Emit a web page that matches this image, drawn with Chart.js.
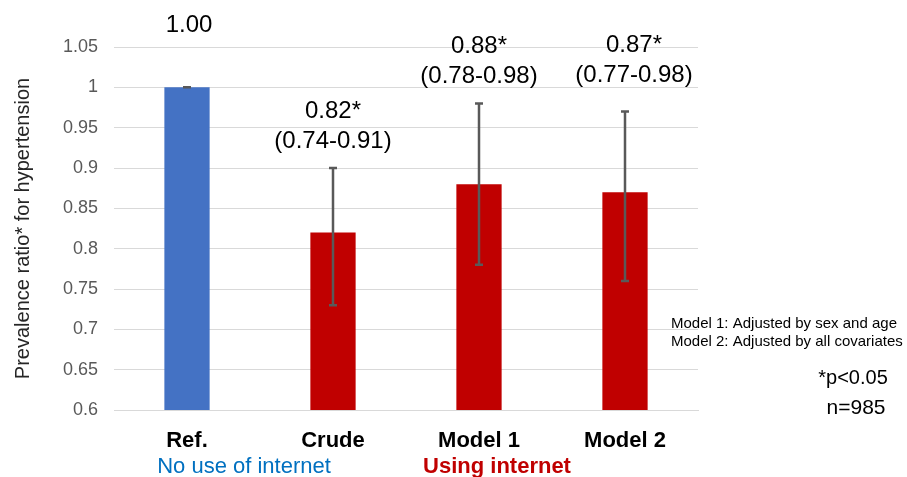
<!DOCTYPE html>
<html>
<head>
<meta charset="utf-8">
<script src="https://cdn.jsdelivr.net/npm/chart.js@4.4.0/dist/chart.umd.min.js"></script>
<style>
  html, body { margin: 0; padding: 0; background: #fff; }
  #wrap { width: 907px; height: 477px; }
</style>
</head>
<body>
<div id="wrap"><canvas id="chart"></canvas></div>
<script>
const categories = ['Ref.', 'Crude', 'Model 1', 'Model 2'];
const ratios = [1.00, 0.82, 0.88, 0.87];
const ciLower = [1.00, 0.73, 0.78, 0.76];
const ciUpper = [1.00, 0.90, 0.98, 0.97];
const valueLabels = ['1.00', '0.82*', '0.88*', '0.87*'];
const ciLabels = ['', '(0.74-0.91)', '(0.78-0.98)', '(0.77-0.98)'];
const groupLabels = ['No use of internet', 'Using internet'];
const notes = ['Model 1: Adjusted by sex and age', 'Model 2: Adjusted by all covariates'];
const footNotes = ['*p<0.05', 'n=985'];

const FONT = '"Liberation Sans", Arial, sans-serif';
const barColours = ['#4472C4', '#C00000', '#C00000', '#C00000'];

// error bars + text drawn on top of the bars
const extras = {
  id: 'extras',
  afterDatasetsDraw(chart) {
    const ctx = chart.ctx;
    const y = chart.scales.y;
    const meta = chart.getDatasetMeta(0);
    ctx.save();

    // error bars
    ctx.strokeStyle = '#595959';
    ctx.lineWidth = 2.5;
    meta.data.forEach((bar, i) => {
      const yt = y.getPixelForValue(ciUpper[i]);
      const yb = y.getPixelForValue(ciLower[i]);
      ctx.beginPath();
      ctx.moveTo(bar.x, yt); ctx.lineTo(bar.x, yb);
      ctx.moveTo(bar.x - 4, yt); ctx.lineTo(bar.x + 4, yt);
      ctx.moveTo(bar.x - 4, yb); ctx.lineTo(bar.x + 4, yb);
      ctx.stroke();
    });

    // value + CI labels
    const nudgeX = [2, 0, 0, 9];
    const nudgeY = [0, 0, 0, -9];
    ctx.fillStyle = '#000';
    ctx.textAlign = 'center';
    ctx.textBaseline = 'middle';
    ctx.font = '24px ' + FONT;
    meta.data.forEach((bar, i) => {
      const top = y.getPixelForValue(ciUpper[i]) + nudgeY[i];
      const x = bar.x + nudgeX[i];
      if (ciLabels[i]) {
        ctx.fillText(ciLabels[i], x, top - 27);
        ctx.fillText(valueLabels[i], x, top - 57);
      } else {
        ctx.fillText(valueLabels[i], x, top - 62);
      }
    });

    // group captions under the axis
    ctx.font = '22px ' + FONT;
    ctx.fillStyle = '#0070C0';
    ctx.fillText(groupLabels[0], meta.data[0].x + 57, 467);
    ctx.font = 'bold 22px ' + FONT;
    ctx.fillStyle = '#C00000';
    ctx.fillText(groupLabels[1], meta.data[2].x + 18, 467);

    // notes on the right
    ctx.fillStyle = '#000';
    ctx.textAlign = 'left';
    ctx.font = '15px ' + FONT;
    notes.forEach((t, i) => ctx.fillText(t, 671, 324 + i * 18));
    ctx.textAlign = 'center';
    ctx.font = '20px ' + FONT;
    ctx.fillText(footNotes[0], 853, 378);
    ctx.font = '21px ' + FONT;
    ctx.fillText(footNotes[1], 856, 408);

    ctx.restore();
  }
};

new Chart(document.getElementById('chart'), {
  type: 'bar',
  data: {
    labels: categories,
    datasets: [{
      data: ratios,
      backgroundColor: barColours,
      barPercentage: 0.31,
      categoryPercentage: 1.0
    }]
  },
  options: {
    responsive: true,
    maintainAspectRatio: false,
    animation: false,
    layout: { padding: { top: 47, right: 209, bottom: 0, left: 0 } },
    plugins: { legend: { display: false }, tooltip: { enabled: false } },
    scales: {
      x: {
        grid: { display: false },
        border: { color: '#d9d9d9' },
        ticks: { color: '#000', font: { family: FONT, size: 22, weight: 'bold' }, padding: 10 },
        afterFit: s => { s.height = 67; }
      },
      y: {
        min: 0.6,
        max: 1.05,
        border: { display: false },
        grid: { color: '#d9d9d9', drawTicks: false },
        ticks: {
          stepSize: 0.05,
          padding: 16,
          color: '#595959',
          font: { family: FONT, size: 18 },
          callback: v => String(Math.round(v * 100) / 100)
        },
        title: {
          display: true,
          text: 'Prevalence ratio* for hypertension',
          color: '#262626',
          font: { family: FONT, size: 20 },
          padding: { top: 11, bottom: 0 }
        },
        afterFit: s => { s.width = 114; }
      }
    }
  },
  plugins: [extras]
});
</script>
</body>
</html>
